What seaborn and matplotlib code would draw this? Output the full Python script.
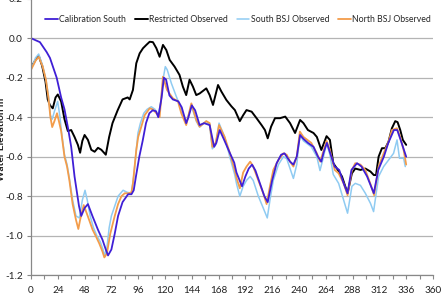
import pandas as pd
import matplotlib
matplotlib.use('Agg')
from matplotlib import pyplot as plt
from matplotlib.ticker import MultipleLocator, FormatStrFormatter
import seaborn as sns

# 数据 (小时, 水位 m)
cal_hours = [0, 8, 14, 17, 20, 23, 27, 30, 33, 36, 39, 43, 45, 48, 51, 55, 60, 64, 67, 69,
             72, 75, 78, 82, 87, 90, 92, 94, 97, 100, 103, 106, 109, 112, 114, 117, 119, 121,
             124, 127, 132, 135, 139, 141, 144, 147, 151, 155, 160, 164, 166, 169, 173, 178,
             182, 184, 189, 192, 195, 198, 201, 205, 209, 212, 216, 220, 224, 227, 232, 235,
             238, 241, 244, 248, 253, 257, 260, 262, 265, 269, 272, 276, 280, 283.5, 287, 292,
             296, 301, 307, 311, 316, 320, 325, 328, 331, 334, 336]
cal_south = [0.0, -0.02, -0.07, -0.10, -0.15, -0.20, -0.30, -0.36, -0.45, -0.55, -0.70, -0.85,
             -0.90, -0.86, -0.84, -0.90, -0.97, -1.02, -1.07, -1.10, -1.07, -0.99, -0.90, -0.83,
             -0.79, -0.79, -0.77, -0.70, -0.60, -0.52, -0.43, -0.38, -0.365, -0.37, -0.40, -0.30,
             -0.20, -0.21, -0.29, -0.31, -0.32, -0.35, -0.43, -0.40, -0.34, -0.365, -0.44, -0.43,
             -0.44, -0.55, -0.53, -0.465, -0.515, -0.58, -0.63, -0.68, -0.75, -0.70, -0.66, -0.64,
             -0.67, -0.735, -0.80, -0.83, -0.72, -0.633, -0.59, -0.583, -0.625, -0.64, -0.60,
             -0.49, -0.51, -0.53, -0.55, -0.60, -0.625, -0.58, -0.53, -0.60, -0.65, -0.667, -0.735,
             -0.785, -0.667, -0.633, -0.65, -0.70, -0.785, -0.667, -0.60, -0.53, -0.465, -0.465,
             -0.515, -0.566, -0.60]

res_hours = [0, 4, 7, 10, 13, 15, 17, 19.5, 22, 24, 27, 30, 33, 36, 39, 42, 44, 46, 48, 51,
             54, 57, 60, 63, 67, 70, 73, 77.6, 82, 86.6, 88.4, 91.3, 94.3, 97.3, 100.3, 103.3,
             106.3, 109.2, 112.3, 115.2, 118.2, 121.2, 124.2, 128.6, 133, 136, 139, 142, 145,
             148, 151, 157, 160, 163, 167.5, 170.5, 175, 179.5, 182.6, 187, 190, 193, 197.6,
             202, 206.5, 209.5, 212, 215, 218.5, 223, 227.7, 232, 236.5, 241, 244, 248, 253,
             256, 260, 264.7, 267.7, 270.7, 274, 278.5, 283.5, 287.4, 290.4, 295, 299.4, 304,
             307, 309, 311.3, 314.3, 317.3, 320.2, 323.2, 326.2, 328.3, 330.7, 333, 336]
restricted = [-0.15, -0.11, -0.09, -0.14, -0.22, -0.31, -0.34, -0.355, -0.30, -0.285, -0.32,
              -0.41, -0.47, -0.465, -0.50, -0.54, -0.58, -0.52, -0.49, -0.515, -0.565, -0.575,
              -0.555, -0.565, -0.59, -0.50, -0.43, -0.365, -0.31, -0.30, -0.31, -0.262, -0.127,
              -0.077, -0.051, -0.034, -0.018, -0.02, -0.051, -0.094, -0.034, -0.06, -0.11,
              -0.144, -0.186, -0.245, -0.288, -0.21, -0.245, -0.288, -0.28, -0.254, -0.288,
              -0.338, -0.237, -0.27, -0.313, -0.345, -0.364, -0.42, -0.39, -0.364, -0.372,
              -0.405, -0.44, -0.465, -0.507, -0.448, -0.405, -0.405, -0.397, -0.43, -0.48,
              -0.414, -0.43, -0.465, -0.48, -0.50, -0.566, -0.496, -0.515, -0.633, -0.66, -0.70,
              -0.785, -0.684, -0.66, -0.667, -0.66, -0.675, -0.693, -0.693, -0.60, -0.557,
              -0.557, -0.524, -0.456, -0.42, -0.425, -0.465, -0.515, -0.54]

sbsj_hours = [0, 4, 6.9, 10.5, 13.4, 15.6, 17.4, 19, 21, 23.9, 26, 27, 30, 32.3, 34.4, 37.3,
              40.3, 43.3, 46, 48.4, 50.4, 53, 56, 59, 62, 64.5, 66, 68, 70, 72, 75, 78, 82.5,
              86, 89.9, 92, 95.8, 98, 101, 104, 107.7, 111, 114, 116, 118.5, 120.3, 122, 125.7,
              130.2, 134.6, 139, 143.6, 148, 151, 157, 160, 162.4, 165.4, 168.4, 173.4, 178,
              182.4, 184.2, 187, 190, 193, 196.3, 199, 203.6, 208, 211.6, 214, 217, 221.6, 226,
              229, 232, 235, 238, 240.8, 244, 251, 256, 258.8, 262, 264.7, 267.7, 270.7, 275.5,
              280, 283.5, 287.4, 290.4, 295, 299.4, 304, 306.8, 311.3, 315.8, 320.2, 324.7,
              327.8, 330, 333.7, 335.2]
south_bsj = [-0.16, -0.10, -0.08, -0.14, -0.21, -0.29, -0.39, -0.41, -0.37, -0.32, -0.40,
             -0.46, -0.59, -0.64, -0.71, -0.82, -0.90, -0.91, -0.82, -0.77, -0.82, -0.90, -0.96,
             -1.00, -1.03, -1.07, -1.10, -1.06, -0.96, -0.90, -0.85, -0.80, -0.77, -0.78, -0.785,
             -0.70, -0.48, -0.43, -0.38, -0.36, -0.347, -0.36, -0.39, -0.33, -0.20, -0.144,
             -0.16, -0.228, -0.296, -0.36, -0.43, -0.34, -0.42, -0.45, -0.42, -0.44, -0.56,
             -0.54, -0.43, -0.50, -0.60, -0.69, -0.74, -0.80, -0.75, -0.72, -0.70, -0.72, -0.80,
             -0.86, -0.91, -0.82, -0.72, -0.64, -0.60, -0.61, -0.66, -0.71, -0.64, -0.49, -0.52,
             -0.55, -0.60, -0.67, -0.60, -0.53, -0.59, -0.69, -0.735, -0.82, -0.886, -0.75,
             -0.735, -0.745, -0.785, -0.836, -0.878, -0.70, -0.65, -0.617, -0.583, -0.515,
             -0.608, -0.608, -0.65]

nbsj_hours = [0, 4.5, 7, 10.5, 13.4, 15.6, 17.4, 19, 21, 23.3, 25, 27, 30, 32.3, 34.4, 37.3,
              40.3, 42.4, 44, 47.2, 50.8, 55.2, 58.3, 61.2, 64, 65.7, 68, 71, 75, 78, 81, 84,
              87, 90, 91.3, 94.3, 96, 98.8, 101.8, 106.3, 109, 112.3, 115.2, 118.2, 121.8, 127,
              131.6, 134.6, 139, 143.6, 148, 151, 157, 160, 162.4, 165.4, 168.4, 173.4, 178,
              182.4, 184.2, 187, 190, 193, 196.3, 199, 203.6, 208, 211, 214, 217, 221.6, 226,
              229, 232, 235, 238, 240.8, 244, 251, 256, 259, 262, 264.7, 267.7, 272, 275.5, 280,
              283.5, 287.4, 290.4, 295, 299.4, 303.8, 307.3, 311.3, 315.8, 320.2, 323.2, 327.7,
              330.7, 333.7, 336]
north_bsj = [-0.16, -0.11, -0.095, -0.144, -0.21, -0.30, -0.40, -0.45, -0.42, -0.38, -0.42,
             -0.47, -0.60, -0.65, -0.72, -0.84, -0.92, -0.966, -0.92, -0.845, -0.90, -0.97,
             -1.005, -1.04, -1.08, -1.11, -1.09, -0.99, -0.90, -0.84, -0.80, -0.785, -0.786,
             -0.78, -0.735, -0.566, -0.50, -0.448, -0.39, -0.355, -0.36, -0.38, -0.40, -0.195,
             -0.262, -0.304, -0.32, -0.38, -0.44, -0.33, -0.414, -0.448, -0.42, -0.43, -0.55,
             -0.53, -0.44, -0.50, -0.58, -0.667, -0.71, -0.76, -0.68, -0.65, -0.625, -0.65,
             -0.72, -0.785, -0.84, -0.75, -0.667, -0.617, -0.583, -0.59, -0.625, -0.65, -0.60,
             -0.473, -0.50, -0.53, -0.583, -0.625, -0.57, -0.52, -0.566, -0.667, -0.684, -0.735,
             -0.795, -0.667, -0.633, -0.64, -0.667, -0.735, -0.795, -0.65, -0.583, -0.524,
             -0.465, -0.456, -0.50, -0.566, -0.64]

# 样式
sns.set_style('white')
plt.rcParams['font.family'] = ['Lato', 'DejaVu Sans']
plt.rcParams['axes.unicode_minus'] = False

fig = plt.figure(figsize=(4.42, 2.97), dpi=100)
ax = fig.add_axes([0.0701, 0.0734, 0.9095, 0.931])

# 画线 (画的顺序: 黑, 浅蓝, 橙, 紫)
sns.lineplot(x=res_hours, y=restricted, color='black', lw=1.4, label='Restricted Observed', ax=ax, estimator=None)
sns.lineplot(x=sbsj_hours, y=south_bsj, color='#8fcbf2', lw=1.1, label='South BSJ Observed', ax=ax, estimator=None)
sns.lineplot(x=nbsj_hours, y=north_bsj, color='#f39c4a', lw=1.3, label='North BSJ Observed', ax=ax, estimator=None)
sns.lineplot(x=cal_hours, y=cal_south, color='#3f1fd6', lw=1.3, label='Calibration South', ax=ax, estimator=None)

# 坐标轴
ax.set_xlim(0, 360)
ax.set_ylim(-1.2, 0.2)
ax.xaxis.set_major_locator(MultipleLocator(24))
ax.xaxis.set_minor_locator(MultipleLocator(12))
ax.yaxis.set_major_locator(MultipleLocator(0.2))
ax.yaxis.set_major_formatter(FormatStrFormatter('%.1f'))
ax.tick_params(axis='both', which='both', direction='out', length=3, width=0.8,
               color='#888888', labelsize=7.2, labelcolor='#222222')
ax.tick_params(axis='x', which='both', bottom=True, pad=5)
ax.tick_params(axis='y', left=True, pad=3)
ax.grid(axis='y', color='#b4b4b4', lw=0.9)
ax.grid(axis='x', visible=False)
for s in ['top', 'right']:
    ax.spines[s].set_visible(False)
for s in ['left', 'bottom']:
    ax.spines[s].set_color('#888888')
    ax.spines[s].set_linewidth(0.9)
ax.set_xlabel('')
ax.set_ylabel('')

fig.text(0.003, 0.53, 'Water Elevation m', rotation=90, ha='center', va='center',
         fontsize=7.2, fontweight='bold', color='#222222')

# 图例
h, l = ax.get_legend_handles_labels()
order = [3, 0, 1, 2]
ax.get_legend().remove()
fig.legend([h[i] for i in order], [l[i] for i in order], ncol=4, loc='center left',
           bbox_to_anchor=(0.093, 0.935), frameon=False, fontsize=6.3,
           handlelength=1.45, handletextpad=0.15, columnspacing=1.0, borderpad=0)

fig.savefig('out.png', dpi=100)
